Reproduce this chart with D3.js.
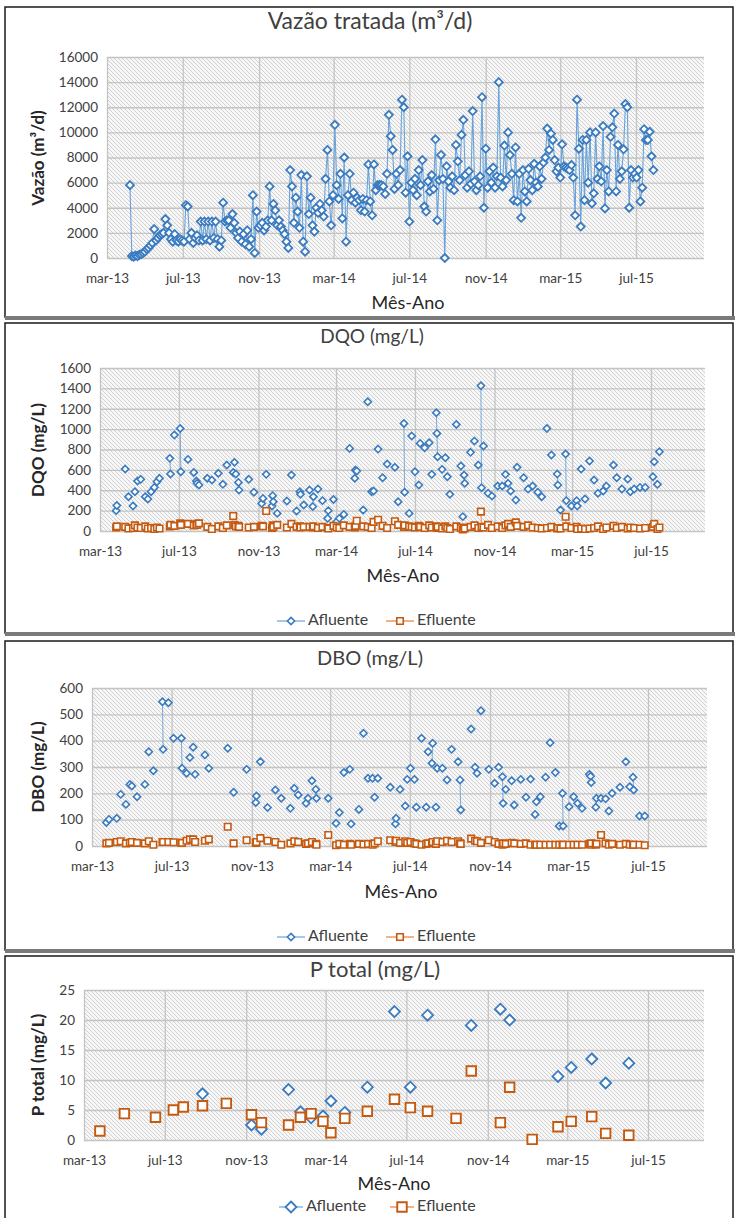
<!DOCTYPE html>
<html><head><meta charset="utf-8">
<script src="https://cdn.jsdelivr.net/npm/d3@7"></script>
<style>
body{margin:0;background:#fff}
svg{display:block}
text{font-family:Lato,'Liberation Sans',sans-serif}
</style>
</head><body>
<svg id="c" width="736" height="1218"></svg>
<script>
// ---------------- DATA ----------------
const xTickDates  = ["2013-03-01","2013-07-01","2013-11-01","2014-03-01","2014-07-01","2014-11-01","2015-03-01","2015-07-01"];
const xTickLabels = ["mar-13","jul-13","nov-13","mar-14","jul-14","nov-14","mar-15","jul-15"];

// Vazão tratada (m³/d): readings every 3 days starting 2013-04-07
const flowStart = "2013-04-07";
const flowStepDays = 3;
const flowValues = [
 5800,150,100,200,150,250,300,400,500,700,
 800,1000,1200,2300,1400,1600,1800,1900,2000,3100,
 2600,2000,1500,1300,1900,1400,1300,1500,1400,1300,
 4200,4100,1500,2000,1200,1600,1800,1400,2900,1400,
 2900,1500,2900,1400,2900,1600,2900,1500,900,1400,
 4400,2900,3000,3000,2400,3500,2800,2000,1600,2100,
 1300,1900,1100,2200,900,1500,5000,400,3700,2400,
 2600,2800,2200,2500,3000,5700,3000,4300,3800,2600,
 3000,2500,2200,1900,1300,800,7000,5700,2800,4800,
 3700,2400,6600,1300,500,6500,3500,4800,2600,2100,
 4000,3600,4300,3800,3300,6300,8600,4500,2600,5000,
 10600,5800,4700,6700,3150,8000,1300,5000,6700,4600,
 5200,4400,4800,4600,3800,4700,3700,4600,7450,4500,
 3400,7450,5400,5800,5800,5800,5700,5100,6700,11400,
 9700,8600,5500,6700,5800,7000,12600,12000,5200,8100,
 2900,6000,5400,6300,5000,7000,5800,7800,4100,3700,
 6100,5300,6600,5500,9450,3000,6200,8200,6300,0,
 7300,6100,5600,6500,5400,9000,7700,6200,9800,11000,
 6600,5600,6900,5900,11700,6100,5400,5800,6500,12800,
 4000,8700,5600,6900,6000,7200,5600,6500,14000,6400,
 5700,8950,6200,10000,8200,6700,4600,8800,4500,6700,
 3200,7000,5300,4500,7100,6200,5400,7500,6000,5700,
 7300,6300,7600,8000,10300,8600,9900,9400,7800,6900,
 7200,6400,9050,7300,7200,7100,7000,7400,6400,3400,
 12600,8700,2500,9400,4600,9400,6000,10000,4350,5150,
 10000,6300,7300,6100,10500,3950,7000,5300,9650,10400,
 11500,5300,9000,6300,6900,8650,12250,12000,4000,7000,
 6400,6700,6400,7000,4500,5600,10250,9400,9400,10050,
 8100,7000
];
const flowYTicks = [0,2000,4000,6000,8000,10000,12000,14000,16000];

// DQO (mg/L)
const dqoDates = [
 "2013-03-26","2013-03-27","2013-04-09","2013-04-14","2013-04-21","2013-04-24","2013-04-28","2013-05-03","2013-05-10","2013-05-14",
 "2013-05-19","2013-05-24","2013-05-28","2013-06-01","2013-06-17","2013-06-18","2013-06-24","2013-07-03","2013-07-04","2013-07-15",
 "2013-07-24","2013-07-28","2013-07-29","2013-08-01","2013-08-14","2013-08-21","2013-08-31","2013-09-07","2013-09-13","2013-09-23",
 "2013-09-25","2013-09-27","2013-10-01","2013-10-02","2013-10-17","2013-10-25","2013-11-06","2013-11-08","2013-11-13","2013-11-22",
 "2013-11-23","2013-11-24","2013-11-30","2013-12-15","2013-12-22","2013-12-30","2014-01-04","2014-01-05","2014-01-10","2014-01-19",
 "2014-01-24","2014-01-25","2014-02-01","2014-02-08","2014-02-16","2014-02-17","2014-02-25","2014-03-02","2014-03-06","2014-03-13",
 "2014-03-22","2014-03-30","2014-03-31","2014-04-02","2014-04-12","2014-04-19","2014-04-25","2014-04-28","2014-05-05","2014-05-12",
 "2014-05-19","2014-05-31","2014-06-05","2014-06-14","2014-06-15","2014-06-22","2014-06-26","2014-07-01","2014-07-07","2014-07-09",
 "2014-07-16","2014-07-23","2014-07-27","2014-08-03","2014-08-04","2014-08-05","2014-08-12","2014-08-17","2014-08-20","2014-08-24",
 "2014-09-03","2014-09-10","2014-09-13","2014-09-15","2014-09-16","2014-09-25","2014-10-01","2014-10-07","2014-10-11","2014-10-12",
 "2014-10-15","2014-10-22","2014-10-28","2014-11-06","2014-11-13","2014-11-18","2014-11-22","2014-11-26","2014-12-04","2014-12-06",
 "2014-12-16","2014-12-23","2014-12-30","2015-01-07","2015-01-13","2015-01-21","2015-01-28","2015-02-06","2015-02-07","2015-02-11",
 "2015-02-19","2015-02-20","2015-02-28","2015-03-08","2015-03-09","2015-03-15","2015-03-21","2015-03-28","2015-04-04","2015-04-10",
 "2015-04-18","2015-04-23","2015-05-04","2015-05-09","2015-05-17","2015-05-26","2015-05-30","2015-06-05","2015-06-14","2015-06-22",
 "2015-07-04","2015-07-06","2015-07-11","2015-07-14"
];
const dqoAfluente = [
 200,250,608,337,245,386,490,507,337,314,
 386,428,484,517,713,560,942,1007,582,703,
 575,490,468,451,517,500,566,458,647,575,
 674,560,477,402,507,380,270,320,556,245,
 347,288,173,294,550,196,386,360,255,402,
 240,337,412,298,124,200,310,92,124,163,
 811,517,598,589,206,1269,386,392,804,523,
 657,625,288,1056,380,173,932,582,451,860,
 817,866,556,1161,958,729,605,719,533,360,
 1046,638,141,549,468,772,883,647,1426,425,
 834,370,343,441,441,556,468,392,304,625,
 523,412,441,380,337,1007,746,559,451,206,
 755,298,245,298,245,608,314,687,500,370,
 392,441,647,523,412,510,386,412,428,428,
 533,680,458,778
];
const dqoEfluente = [
 35,45,40,25,30,55,35,30,45,25,
 30,20,35,25,45,60,50,75,60,70,
 55,70,60,75,40,20,45,30,55,147,
 60,45,50,40,35,40,50,45,196,30,
 55,40,60,35,70,40,45,35,40,40,
 35,45,30,40,30,25,50,35,30,55,
 40,35,50,100,45,40,30,90,110,50,
 30,95,60,40,55,45,40,35,50,40,
 30,55,35,45,30,40,25,45,30,20,
 45,30,15,35,25,40,55,30,190,40,
 35,60,30,45,30,55,70,40,85,50,
 40,55,35,30,25,30,40,25,30,25,
 140,45,30,40,20,25,20,25,30,45,
 20,35,50,30,40,25,35,30,25,30,
 40,70,20,35
];
const dqoYTicks = [0,200,400,600,800,1000,1200,1400,1600];

// DBO (mg/L)
const dboDates = [
 "2013-03-23","2013-03-27","2013-04-08","2013-04-14","2013-04-22","2013-04-28","2013-05-01","2013-05-09","2013-05-21","2013-05-27",
 "2013-06-03","2013-06-17","2013-06-18","2013-06-26","2013-07-04","2013-07-16","2013-07-17","2013-07-24","2013-07-29","2013-08-03",
 "2013-08-06","2013-08-21","2013-08-27","2013-09-25","2013-10-04","2013-10-24","2013-11-07","2013-11-08","2013-11-14","2013-11-25",
 "2013-12-07","2013-12-16","2013-12-30","2014-01-05","2014-01-11","2014-01-23","2014-01-26","2014-02-01","2014-02-07","2014-02-08",
 "2014-02-26","2014-03-10","2014-03-15","2014-03-22","2014-03-31","2014-04-02","2014-04-14","2014-04-21","2014-04-28","2014-05-05",
 "2014-05-08","2014-05-13","2014-06-01","2014-06-09","2014-06-10","2014-06-16","2014-06-24","2014-06-27","2014-07-02","2014-07-08",
 "2014-07-11","2014-07-19","2014-07-26","2014-07-29","2014-08-04","2014-08-05","2014-08-10","2014-08-12","2014-08-20","2014-08-27",
 "2014-09-03","2014-09-13","2014-09-16","2014-09-17","2014-10-03","2014-10-09","2014-10-12","2014-10-18","2014-10-30","2014-11-08",
 "2014-11-14","2014-11-20","2014-11-21","2014-11-25","2014-12-04","2014-12-08","2014-12-18","2014-12-26","2015-01-02","2015-01-09",
 "2015-01-11","2015-01-17","2015-01-25","2015-02-01","2015-02-09","2015-02-15","2015-02-20","2015-02-21","2015-03-02","2015-03-09",
 "2015-03-15","2015-03-22","2015-04-02","2015-04-04","2015-04-05","2015-04-12","2015-04-13","2015-04-20","2015-04-27","2015-05-02",
 "2015-05-07","2015-05-19","2015-05-28","2015-06-03","2015-06-08","2015-06-09","2015-06-18","2015-06-26"
];
const dboAfluente = [
 89,101,105,196,158,234,228,187,234,358,
 286,548,367,544,409,409,295,276,336,375,
 272,346,295,371,204,291,165,190,320,146,
 213,181,143,219,194,162,181,248,215,181,
 181,86,127,279,291,84,139,428,257,257,
 185,257,223,84,105,215,152,253,295,253,
 147,409,147,358,314,390,147,295,295,251,
 367,320,251,137,444,299,276,514,291,238,
 299,263,162,215,248,156,253,185,254,120,
 168,187,261,392,279,76,200,76,149,187,
 162,143,272,265,241,147,181,181,179,133,
 200,223,320,225,261,213,114,114
];
const dboEfluente = [
 10,12,15,18,10,12,15,12,10,18,
 5,15,15,15,14,12,12,20,25,25,
 15,20,25,73,10,22,12,15,30,20,
 15,5,10,18,15,8,10,15,8,5,
 42,3,8,5,8,5,8,6,8,5,
 10,18,22,15,20,12,18,12,15,10,
 8,5,8,10,12,15,8,18,15,20,
 15,18,10,8,28,20,18,12,22,15,
 8,5,10,8,12,10,8,10,5,5,
 5,5,5,5,5,5,5,5,5,5,
 5,5,8,5,10,5,8,42,10,5,
 8,5,8,5,5,5,5,3
];
const dboYTicks = [0,100,200,300,400,500,600];

// P total (mg/L)
const ptAfluenteDates = [
 "2013-08-27","2013-11-09","2013-11-24","2014-01-04","2014-01-22","2014-02-07","2014-02-25","2014-03-09","2014-03-30","2014-05-03",
 "2014-06-13","2014-07-07","2014-08-02","2014-10-07","2014-11-20","2014-12-04","2015-02-15","2015-03-07","2015-04-07","2015-04-28",
 "2015-06-02"
];
const ptAfluente = [7.7,2.5,1.8,8.4,4.7,3.7,4.0,6.5,4.6,8.8, 21.4,8.8,20.8,19.1,21.8,20.0,10.6,12.1,13.5,9.5, 12.8];
const ptEfluenteDates = [
 "2013-03-25","2013-05-01","2013-06-17","2013-07-14","2013-07-29","2013-08-27","2013-10-02","2013-11-09","2013-11-24","2014-01-04",
 "2014-01-22","2014-02-07","2014-02-25","2014-03-09","2014-03-30","2014-05-03","2014-06-13","2014-07-07","2014-08-02","2014-09-14",
 "2014-10-07","2014-11-20","2014-12-04","2015-01-07","2015-02-15","2015-03-07","2015-04-07","2015-04-28","2015-06-02"
];
const ptEfluente = [1.5,4.4,3.8,5.0,5.5,5.7,6.1,4.2,2.9,2.5, 3.8,4.4,3.1,1.2,3.6,4.8,6.8,5.4,4.8,3.6, 11.5,2.9,8.8,0.1,2.2,3.1,3.9,1.1,0.8];
const ptYTicks = [0,5,10,15,20,25];

const legendNames = ["Afluente","Efluente"];

// ---------------- DRAW ----------------
const parse = d3.timeParse("%Y-%m-%d");
const svg = d3.select("#c");
const defs = svg.append("defs");
const pat = defs.append("pattern").attr("id","hatch").attr("patternUnits","userSpaceOnUse")
  .attr("width",4).attr("height",4);
pat.append("rect").attr("width",4).attr("height",4).attr("fill","#f7f7f7");
pat.append("path").attr("d","M-1,-1 L5,5 M-1,3 L1,5 M3,-1 L5,1")
  .attr("stroke","#cdcdcd").attr("stroke-width",0.9);

const BLUE_MK = "#3a7bc0", BLUE_LN = "#6a a3d9".replace(" ",""), ORANGE_MK = "#c55a11", ORANGE_LN = "#ed7d31";

function diamond(r){ return `M0,${-r}L${r},0L0,${r}L${-r},0Z`; }
function square(s){ const h=s/2; return `M${-h},${-h}H${h}V${h}H${-h}Z`; }

function drawPanel(cfg){
  const g = svg.append("g");
  g.append("rect").attr("x",cfg.box[0]).attr("y",cfg.box[1]).attr("width",cfg.box[2]-cfg.box[0]).attr("height",cfg.box[3]-cfg.box[1])
    .attr("fill","#fff").attr("stroke","#1a1a1a").attr("stroke-width",1.5);
  if (cfg.shadow) g.append("rect").attr("x",cfg.box[0]).attr("y",cfg.box[3]-1).attr("width",cfg.box[2]-cfg.box[0]+2).attr("height",4).attr("fill","#7a7a7a");

  const x = d3.scaleTime().domain([parse(xTickDates[0]), parse(xTickDates[xTickDates.length-1])]).range([cfg.x0, cfg.xLast]);
  const y = d3.scaleLinear().domain([0, cfg.yTicks[cfg.yTicks.length-1]]).range([cfg.yBottom, cfg.yTop]);

  g.append("rect").attr("x",cfg.x0).attr("y",cfg.yTop).attr("width",cfg.x1-cfg.x0).attr("height",cfg.yBottom-cfg.yTop).attr("fill","url(#hatch)");

  const yAxis = d3.axisLeft(y).tickValues(cfg.yTicks).tickSize(-(cfg.x1-cfg.x0)).tickPadding(9).tickFormat(d3.format("d"));
  const ya = g.append("g").attr("transform",`translate(${cfg.x0},0)`).call(yAxis);
  const xAxis = d3.axisBottom(x).tickValues(xTickDates.map(parse)).tickSize(-(cfg.yBottom-cfg.yTop)).tickPadding(15)
    .tickFormat((d,i)=>xTickLabels[i]);
  const xa = g.append("g").attr("transform",`translate(0,${cfg.yBottom})`).call(xAxis);
  [ya,xa].forEach(a=>{
    a.select(".domain").remove();
    a.selectAll(".tick line").attr("stroke","#c4c4c4").attr("stroke-width",1.3);
    a.selectAll(".tick text").attr("fill","#404040").style("font-size","13.5px").style("font-family","Lato,sans-serif");
  });

  g.append("text").attr("x",cfg.titleX).attr("y",cfg.titleY).attr("text-anchor","middle").attr("dominant-baseline","middle")
    .attr("fill","#404040").style("font-size",cfg.titleSize+"px").text(cfg.title);
  g.append("text").attr("transform",`translate(${cfg.yLabelX},${cfg.yLabelY}) rotate(-90)`).attr("text-anchor","middle")
    .attr("dominant-baseline","middle").attr("fill","#262626").style("font-size","17px").style("font-weight","bold").text(cfg.yLabel);
  g.append("text").attr("x",cfg.xTitleX).attr("y",cfg.xTitleY).attr("text-anchor","middle").attr("dominant-baseline","middle")
    .attr("fill","#262626").style("font-size","18px").text("Mês-Ano");

  const line = d3.line().x(p=>x(p.d)).y(p=>y(p.v));
  cfg.series.forEach(s=>{
    const pts = s.dates.map((d,i)=>({d, v:s.values[i]}));
    const segs = [];
    for (let i=1;i<pts.length;i++) if ((pts[i].d-pts[i-1].d)/864e5 <= s.maxGap+0.01) segs.push([pts[i-1],pts[i]]);
    g.append("path").attr("d",segs.map(sg=>line(sg)).join("")).attr("fill","none")
      .attr("stroke",s.lineColor).attr("stroke-width",s.lineWidth);
    g.append("g").selectAll("path").data(pts).join("path")
      .attr("transform",p=>`translate(${x(p.d)},${y(p.v)})`)
      .attr("d",s.shape==="diamond"?diamond(s.size):square(s.size))
      .attr("fill","#fff").attr("stroke",s.markColor).attr("stroke-width",s.markStroke);
  });

  if (cfg.legend){
    const L = cfg.legend;
    cfg.series.forEach((s,i)=>{
      const lx = L.xs[i];
      g.append("line").attr("x1",lx).attr("x2",lx+L.len).attr("y1",L.y).attr("y2",L.y).attr("stroke",s.lineColor).attr("stroke-width",1.2);
      g.append("path").attr("transform",`translate(${lx+L.len/2},${L.y})`).attr("d",s.shape==="diamond"?diamond(s.size):square(s.size))
        .attr("fill","#fff").attr("stroke",s.markColor).attr("stroke-width",s.markStroke);
      g.append("text").attr("x",lx+L.len+3).attr("y",L.y).attr("dominant-baseline","middle").attr("fill","#404040")
        .style("font-size","16px").text(legendNames[i]);
    });
  }
}

const flowDates = flowValues.map((v,i)=>d3.timeDay.offset(parse(flowStart), i*flowStepDays));

drawPanel({
  box:[5,7,733,317], shadow:true,
  x0:107, x1:704, xLast:636, yTop:57, yBottom:258, yTicks:flowYTicks,
  title:"Vazão tratada (m³/d)", titleX:370, titleY:23, titleSize:23,
  yLabel:"Vazão (m³/d)", yLabelX:40, yLabelY:158, xTitleX:408, xTitleY:304,
  series:[{dates:flowDates, values:flowValues, shape:"diamond", size:4, markColor:BLUE_MK, markStroke:1.8,
           lineColor:BLUE_LN, lineWidth:1.1, maxGap:flowStepDays}]
});

drawPanel({
  box:[5,323,733,633], shadow:true,
  x0:100, x1:705, xLast:651, yTop:368, yBottom:531, yTicks:dqoYTicks,
  title:"DQO (mg/L)", titleX:372, titleY:338, titleSize:19,
  yLabel:"DQO (mg/L)", yLabelX:40, yLabelY:450, xTitleX:403, xTitleY:577,
  series:[
    {dates:dqoDates.map(parse), values:dqoAfluente, shape:"diamond", size:3.6, markColor:BLUE_MK, markStroke:1.6, lineColor:BLUE_LN, lineWidth:0.9, maxGap:1},
    {dates:dqoDates.map(parse), values:dqoEfluente, shape:"square", size:6.5, markColor:ORANGE_MK, markStroke:1.6, lineColor:ORANGE_LN, lineWidth:0.9, maxGap:1}
  ],
  legend:{y:621, xs:[277,386], len:28}
});

drawPanel({
  box:[5,641,733,950], shadow:true,
  x0:92, x1:707, xLast:648, yTop:688, yBottom:846, yTicks:dboYTicks,
  title:"DBO (mg/L)", titleX:370, titleY:660, titleSize:20,
  yLabel:"DBO (mg/L)", yLabelX:40, yLabelY:767, xTitleX:401, xTitleY:893,
  series:[
    {dates:dboDates.map(parse), values:dboAfluente, shape:"diamond", size:3.6, markColor:BLUE_MK, markStroke:1.6, lineColor:BLUE_LN, lineWidth:0.9, maxGap:1},
    {dates:dboDates.map(parse), values:dboEfluente, shape:"square", size:6.5, markColor:ORANGE_MK, markStroke:1.6, lineColor:ORANGE_LN, lineWidth:0.9, maxGap:1}
  ],
  legend:{y:937, xs:[277,386], len:28}
});

drawPanel({
  box:[5,956,733,1230], shadow:false,
  x0:84, x1:704, xLast:648, yTop:990, yBottom:1140, yTicks:ptYTicks,
  title:"P total (mg/L)", titleX:375, titleY:971, titleSize:22,
  yLabel:"P total (mg/L)", yLabelX:40, yLabelY:1065, xTitleX:394, xTitleY:1185,
  series:[
    {dates:ptAfluenteDates.map(parse), values:ptAfluente, shape:"diamond", size:5.5, markColor:BLUE_MK, markStroke:1.8, lineColor:BLUE_LN, lineWidth:0.9, maxGap:1},
    {dates:ptEfluenteDates.map(parse), values:ptEfluente, shape:"square", size:9.5, markColor:ORANGE_MK, markStroke:1.9, lineColor:ORANGE_LN, lineWidth:0.9, maxGap:1}
  ],
  legend:{y:1207, xs:[279,390], len:24}
});
</script>
</body></html>
